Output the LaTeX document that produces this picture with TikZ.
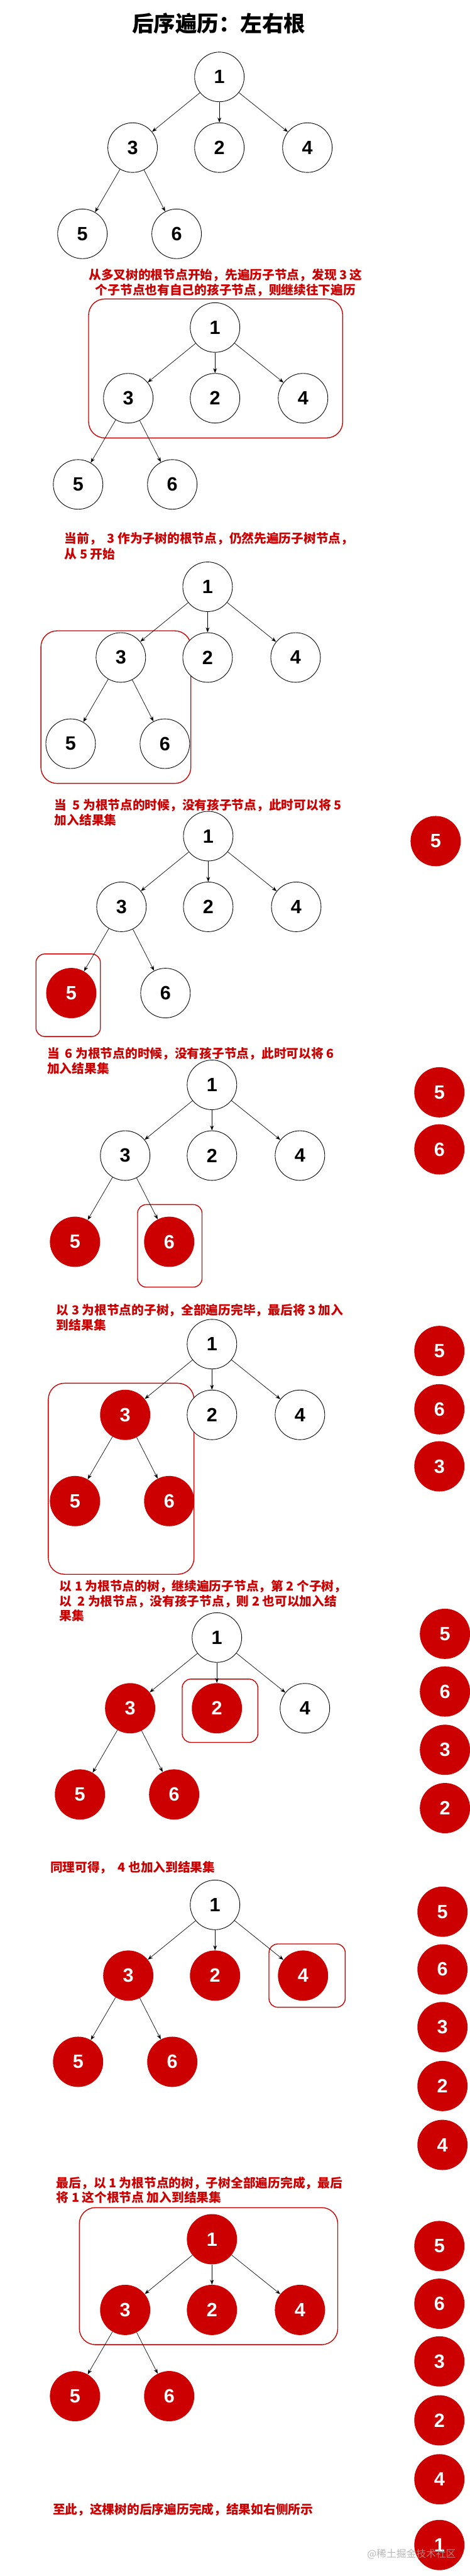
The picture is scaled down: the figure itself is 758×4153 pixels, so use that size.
\documentclass[tikz,border=0pt]{standalone}
\usepackage{fontspec}
\setmainfont{Liberation Sans}
\newfontfamily\cjk{Noto Sans CJK SC}
\usetikzlibrary{arrows.meta}
\definecolor{dred}{HTML}{CC0000}
\newcommand\ptree[9]{%
  \node[#4] (#1-1) at (#2,#3) {1};
  \node[#5] (#1-3) at (#2-140,#3+114) {3};
  \node[#6] (#1-2) at (#2,#3+114) {2};
  \node[#7] (#1-4) at (#2+142,#3+114) {4};
  \node[#8] (#1-5) at (#2-221,#3+253) {5};
  \node[#9] (#1-6) at (#2-69,#3+253) {6};
  \draw[arr] (#1-1) -- (#1-3);
  \draw[arr] (#1-1) -- (#1-2);
  \draw[arr] (#1-1) -- (#1-4);
  \draw[arr] (#1-3) -- (#1-5);
  \draw[arr] (#1-3) -- (#1-6);
}
\newcommand\res[4]{\node[rn] (#1) at (#2,#3) {#4};}
\begin{document}
\begin{tikzpicture}[x=1pt,y=-1pt,
  digit/.style={font=\fontsize{31}{31}\selectfont\bfseries},
  wn/.style={circle,draw=black,line width=0.9pt,fill=white,minimum size=80pt,inner sep=0pt,digit},
  rn/.style={circle,draw=none,fill=dred,text=white,minimum size=81pt,inner sep=0pt,digit},
  arr/.style={-{Stealth[length=8pt,width=6pt]},line width=0.7pt},
  hl/.style={draw=dred,line width=1.4pt,rounded corners=26pt},
  hls/.style={draw=dred,line width=1.4pt,rounded corners=14pt},
  note/.style={text=dred,font=\cjk\bfseries\fontsize{20}{24}\selectfont,anchor=west,inner sep=0pt},
]
\useasboundingbox (0,0) rectangle (758,4153);
\fill[white] (0,0) rectangle (758,4153);

\node[font=\cjk\bfseries\fontsize{35}{35}\selectfont] (title) at (353,38) {后序遍历：左右根};

% step 0
\ptree{a}{354}{124}{wn}{wn}{wn}{wn}{wn}{wn}

% step 1
\node[note,anchor=center] (n1a) at (364,444) {从多叉树的根节点开始，先遍历子节点，发现 3 这};
\node[note,anchor=center] (n1b) at (364,468) {个子节点也有自己的孩子节点，则继续往下遍历};
\draw[hl] (143,482) rectangle (553,706);
\ptree{b}{347}{528}{wn}{wn}{wn}{wn}{wn}{wn}

% step 2
\node[note] (n2a) at (104,868) {当前，~ 3 作为子树的根节点，仍然先遍历子树节点，};
\node[note] (n2b) at (104,893) {从 5 开始};
\draw[hl] (66,1017) rectangle (308,1263);
\ptree{c}{335}{946}{wn}{wn}{wn}{wn}{wn}{wn}

% step 3
\node[note] (n3a) at (88,1298) {当~ 5 为根节点的时候，没有孩子节点，此时可以将 5};
\node[note] (n3b) at (88,1322) {加入结果集};
\draw[hls] (58,1538) rectangle (162,1671);
\ptree{d}{336}{1348}{wn}{wn}{wn}{wn}{rn}{wn}
\res{rd5}{703}{1356}{5}

% step 4
\node[note] (n4a) at (76,1699) {当~ 6 为根节点的时候，没有孩子节点，此时可以将 6};
\node[note] (n4b) at (76,1723) {加入结果集};
\draw[hls] (222,1942) rectangle (326,2075);
\ptree{e}{342}{1749}{wn}{wn}{wn}{wn}{rn}{rn}
\res{re5}{709}{1761}{5}
\res{re6}{709}{1853}{6}

% step 5
\node[note] (n5a) at (91,2112) {以 3 为根节点的子树，全部遍历完毕，最后将 3 加入};
\node[note] (n5b) at (91,2136) {到结果集};
\draw[hl] (78,2230) rectangle (313,2538);
\ptree{f}{342}{2167}{wn}{rn}{wn}{wn}{rn}{rn}
\res{rf5}{709}{2178}{5}
\res{rf6}{709}{2272}{6}
\res{rf3}{709}{2364}{3}

% step 6
\node[note] (n6a) at (96,2558) {以 1 为根节点的树，继续遍历子节点，第 2 个子树，};
\node[note] (n6b) at (96,2582) {以~ 2 为根节点，没有孩子节点，则 2 也可以加入结};
\node[note] (n6c) at (96,2605) {果集};
\draw[hls] (294,2707) rectangle (416,2809);
\ptree{g}{350}{2640}{wn}{rn}{rn}{wn}{rn}{rn}
\res{rg5}{718}{2634}{5}
\res{rg6}{718}{2727}{6}
\res{rg3}{718}{2821}{3}
\res{rg2}{718}{2915}{2}

% step 7
\node[note] (n7a) at (81,3011) {同理可得，~ 4 也加入到结果集};
\draw[hls] (434,3134) rectangle (557,3236);
\ptree{h}{347}{3071}{wn}{rn}{rn}{rn}{rn}{rn}
\res{rh5}{714}{3082}{5}
\res{rh6}{714}{3175}{6}
\res{rh3}{714}{3268}{3}
\res{rh2}{714}{3363}{2}
\res{rh4}{714}{3458}{4}

% step 8
\node[note] (n8a) at (91,3520) {最后，以 1 为根节点的树，子树全部遍历完成，最后};
\node[note] (n8b) at (91,3543) {将 1 这个根节点 加入到结果集};
\draw[hl] (128,3559) rectangle (545,3780);
\ptree{k}{342}{3610}{rn}{rn}{rn}{rn}{rn}{rn}
\res{rk5}{709}{3621}{5}
\res{rk6}{709}{3714}{6}
\res{rk3}{709}{3807}{3}
\res{rk2}{709}{3902}{2}
\res{rk4}{709}{3997}{4}
\res{rk1}{709}{4103}{1}

% final
\node[note] (n9a) at (85,4046) {至此，这棵树的后序遍历完成，结果如右侧所示};
\node[font=\cjk\fontsize{16}{16}\selectfont,text=gray!70,text opacity=0.8,inner sep=0pt] (wm) at (664,4118) {@稀土掘金技术社区};
\end{tikzpicture}
\end{document}
